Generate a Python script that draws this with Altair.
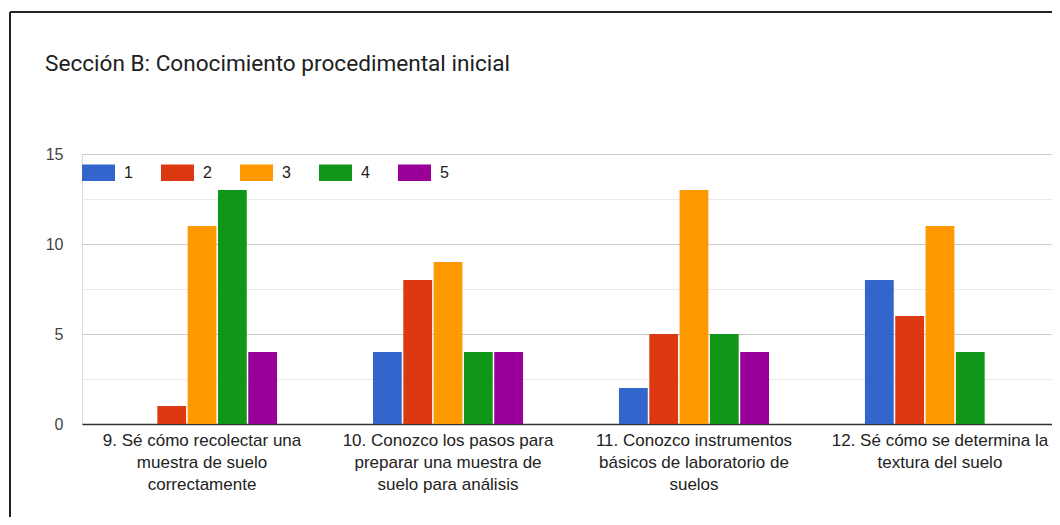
import altair as alt
import pandas as pd

title_text = "Sección B: Conocimiento procedimental inicial"
questions = [
    "9. Sé cómo recolectar una\nmuestra de suelo\ncorrectamente",
    "10. Conozco los pasos para\npreparar una muestra de\nsuelo para análisis",
    "11. Conozco instrumentos\nbásicos de laboratorio de\nsuelos",
    "12. Sé cómo se determina la\ntextura del suelo",
]
levels = ["1", "2", "3", "4", "5"]
colors = ["#3366cc", "#dc3912", "#ff9900", "#109618", "#990099"]

# counts per question for levels 1..5
counts_q9 = [0, 1, 11, 13, 4]
counts_q10 = [4, 8, 9, 4, 4]
counts_q11 = [2, 5, 13, 5, 4]
counts_q12 = [8, 6, 11, 4, 0]
y_ticks = [0, 2.5, 5, 7.5, 10, 12.5, 15]

rows = []
for q, vals in zip(questions, [counts_q9, counts_q10, counts_q11, counts_q12]):
    for lv, v in zip(levels, vals):
        rows.append({"pregunta": q, "nivel": lv, "respuestas": v})
df = pd.DataFrame(rows)

bars = alt.Chart(df).mark_bar().encode(
    x=alt.X(
        "pregunta:N",
        sort=questions,
        scale=alt.Scale(paddingInner=0.39, paddingOuter=0.183, range=[0, 978]),
        axis=alt.Axis(
            title=None,
            labelAngle=0,
            ticks=False,
            domainColor="#333333",
            domainWidth=1.5,
            labelFont="Liberation Sans",
            labelFontSize=17,
            labelColor="#222222",
            labelLineHeight=22,
            labelPadding=8,
            labelLimit=0,
            labelOverlap=False,
            labelBound=False,
            labelExpr="split(datum.label, '\\n')",
        ),
    ),
    xOffset=alt.XOffset("nivel:N", sort=levels, scale=alt.Scale(paddingInner=0.05, paddingOuter=0)),
    y=alt.Y(
        "respuestas:Q",
        scale=alt.Scale(domain=[0, 15], nice=False),
        axis=alt.Axis(
            title=None,
            values=y_ticks,
            labelExpr="datum.value % 5 == 0 ? datum.label : ''",
            ticks=False,
            domain=False,
            gridColor=alt.condition("datum.value % 5 == 0", alt.value("#cccccc"), alt.value("#ebebeb")),
            labelFont="Liberation Sans",
            labelFontSize=16,
            labelColor="#444444",
            labelPadding=19,
        ),
    ),
    color=alt.Color(
        "nivel:N",
        sort=levels,
        scale=alt.Scale(domain=levels, range=colors),
        legend=alt.Legend(
            title=None,
            orient="none",
            legendX=0,
            legendY=2,
            direction="horizontal",
            columns=5,
            symbolType="M-1,-0.5H1V0.5H-1Z",
            symbolSize=1089,
            symbolStrokeWidth=0,
            symbolOpacity=1,
            labelFont="Liberation Sans",
            labelFontSize=16,
            labelColor="#222222",
            labelOffset=9,
            columnPadding=28,
            padding=0,
        ),
    ),
)

frame_df = pd.DataFrame({"k": [0]})
frame_left = alt.Chart(frame_df).mark_rule(color="#222222", strokeWidth=2).encode(
    x=alt.value(-72), y=alt.value(-142), y2=alt.value(400)
)
frame_top = alt.Chart(frame_df).mark_rule(color="#222222", strokeWidth=2).encode(
    x=alt.value(-72), x2=alt.value(1000), y=alt.value(-142)
)

chart = (
    alt.layer(bars, frame_left, frame_top)
    .properties(
        width=970,
        height=270,
        autosize=alt.AutoSizeParams(type="none"),
        padding={"left": 74, "top": 146, "right": 0, "bottom": 93},
        title=alt.TitleParams(
            text=title_text,
            anchor="start",
            frame="group",
            font="Roboto",
            fontSize=22.6,
            fontWeight="normal",
            color="#212121",
            dx=-37,
            offset=-83,
            baseline="alphabetic",
        ),
    )
    .configure_view(stroke=None)
    .configure(background="white")
)

chart.save("out.html", embed_options={"renderer": "svg", "actions": False})
